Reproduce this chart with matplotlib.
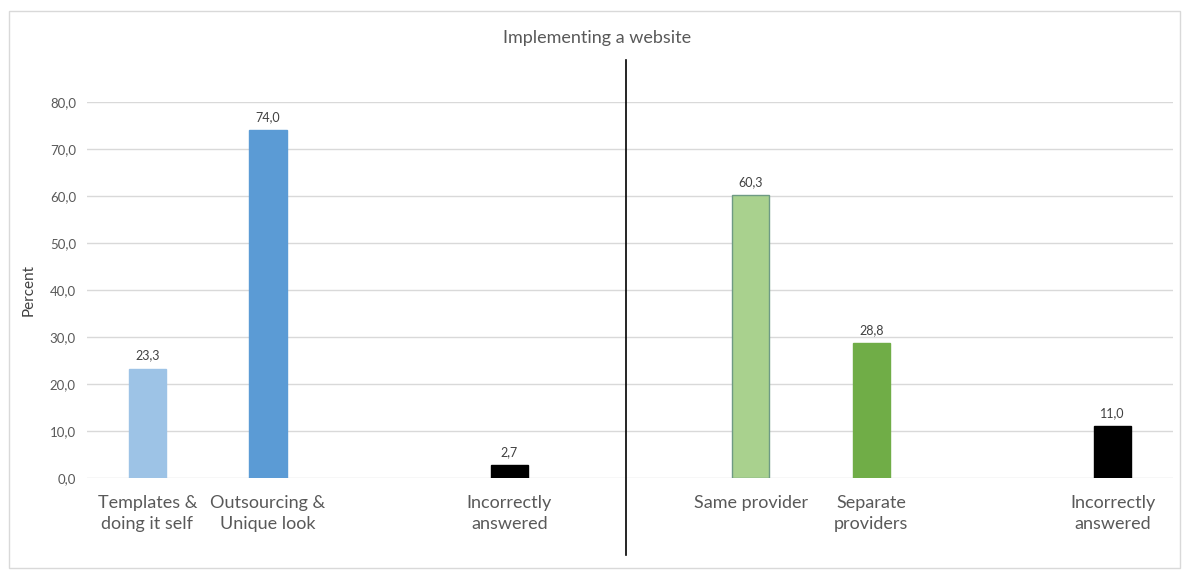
import matplotlib.pyplot as plt
from matplotlib.lines import Line2D
from matplotlib.patches import Rectangle
import numpy as np

plt.rcParams['font.family'] = ['Lato', 'DejaVu Sans']

# Category slots along the x axis (empty strings are spacer slots)
categories = ["Templates &\ndoing it self", "Outsourcing &\nUnique look", "",
              "Incorrectly\nanswered", "", "Same provider", "Separate\nproviders",
              "", "Incorrectly\nanswered"]
values = [23.3, 74.0, np.nan, 2.7, np.nan, 60.3, 28.8, np.nan, 11.0]
colors = ["#9DC3E6", "#5B9BD5", "none", "#000000", "none",
          "#A9D18E", "#70AD47", "none", "#000000"]
edges = ["#9DC3E6", "#5B9BD5", "none", "#000000", "none",
         "#6E9A84", "#70AD47", "none", "#000000"]
yticks = [0, 10, 20, 30, 40, 50, 60, 70, 80]

text_gray = "#595959"

fig = plt.figure(figsize=(11.84, 5.72), dpi=100)
ax = fig.add_axes([0.0735, 0.1643, 0.9172, 0.6573])

x = np.arange(len(categories))
ax.bar(x, values, width=0.31, color=colors, edgecolor=edges, linewidth=1, zorder=3)

# value labels above bars
for xi, v in zip(x, values):
    if np.isnan(v):
        continue
    ax.annotate(f"{v:.1f}".replace(".", ","), (xi, v), xytext=(0, 5),
                textcoords="offset points", ha="center", va="bottom",
                fontsize=9, color="#404040")

ax.set_xlim(-0.5, len(categories) - 0.5)
ax.set_ylim(0, 80)
ax.set_yticks(yticks)
ax.set_yticklabels([f"{t:.1f}".replace(".", ",") for t in yticks])
ax.set_xticks(x)
ax.set_xticklabels(categories, fontsize=13, color=text_gray, linespacing=1.4)
ax.tick_params(axis="x", length=0, pad=12)
ax.tick_params(axis="y", length=0, pad=8, labelsize=9.5, labelcolor=text_gray)
ax.grid(axis="y", color="#D9D9D9", linewidth=1, zorder=0)
for s in ax.spines.values():
    s.set_visible(False)

ax.set_ylabel("Percent", fontsize=11, color="#404040", labelpad=10)
fig.text(0.504, 0.934, "Implementing a website", ha="center", va="center",
         fontsize=13, color=text_gray)

# divider between the two question groups
fig.add_artist(Line2D([0.5287, 0.5287], [0.895, 0.030], color="black", linewidth=1.2))

# chart border
fig.add_artist(Rectangle((0.008, 0.007), 0.989, 0.974, fill=False,
                         edgecolor="#D9D9D9", linewidth=1, transform=fig.transFigure))

fig.savefig("out.png", dpi=100)
